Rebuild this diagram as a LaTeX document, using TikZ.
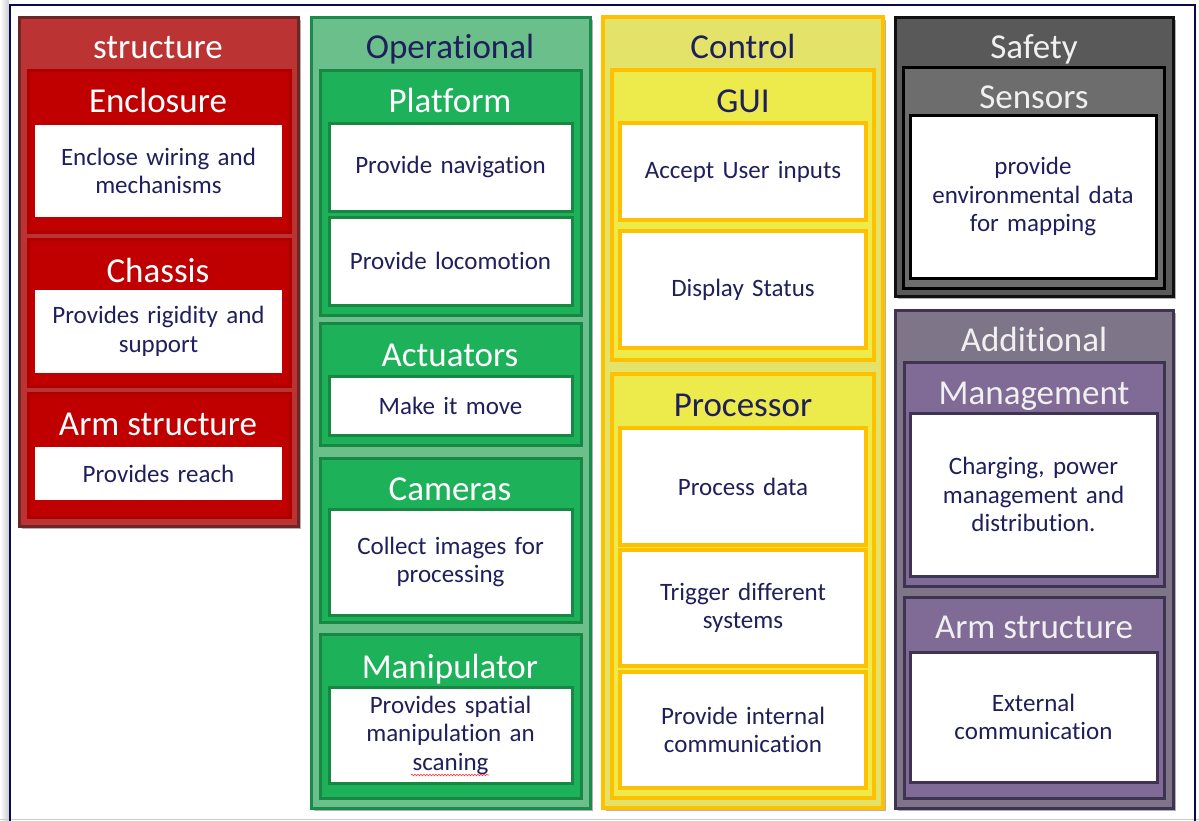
\documentclass[tikz,border=0pt]{standalone}
\usepackage{fontspec}
\setmainfont{Carlito}[Ligatures=NoCommon]
\usetikzlibrary{shadows,decorations.pathmorphing}

\definecolor{navytext}{HTML}{1F1F5C}
\definecolor{framecol}{HTML}{0A0A50}
\definecolor{redOutF}{HTML}{BB3333}\definecolor{redOutD}{HTML}{6B2626}
\definecolor{redInF}{HTML}{C00000}\definecolor{redInD}{HTML}{AE0000}
\definecolor{grnOutF}{HTML}{6ABF8B}\definecolor{grnOutD}{HTML}{1B8A4C}
\definecolor{grnInF}{HTML}{1DB15A}\definecolor{grnInD}{HTML}{178743}
\definecolor{ylwOutF}{HTML}{E3E36A}\definecolor{ylwD}{HTML}{FFC000}
\definecolor{ylwInF}{HTML}{EDEB4B}
\definecolor{gryOutF}{HTML}{595959}\definecolor{gryD}{HTML}{111111}
\definecolor{gryInF}{HTML}{6D6D6D}
\definecolor{purOutF}{HTML}{7F7589}\definecolor{purD}{HTML}{3E3350}
\definecolor{purInF}{HTML}{806A96}

% rectangular node given by its top-left and bottom-right corners
\newcommand\panel[6]{%
  \pgfmathsetmacro\pw{#5-#3}\pgfmathsetmacro\ph{#6-#4}%
  \node[#2, anchor=north west, minimum width=\pw pt, minimum height=\ph pt] (#1) at (#3,#4) {};}
% text block centred in a white box
\newcommand\desc[2]{\node[body] (#1-t) at (#1.center) {#2};}

\tikzset{
  box/.style={rectangle, inner sep=0pt, outer sep=0pt},
  colshadow/.style={drop shadow={shadow xshift=3pt, shadow yshift=-3pt, fill=black, opacity=0.3}},
  frame/.style={box, draw=framecol, line width=2.5pt},
  redout/.style={box, colshadow, fill=redOutF, draw=redOutD, line width=3pt},
  redin/.style={box, fill=redInF, draw=redInD, line width=3pt},
  redwhite/.style={box, fill=white},
  grnout/.style={box, colshadow, fill=grnOutF, draw=grnOutD, line width=3pt},
  grnin/.style={box, fill=grnInF, draw=grnInD, line width=3pt},
  grnwhite/.style={box, fill=white, draw=grnInD, line width=3pt},
  ylwout/.style={box, colshadow, fill=ylwOutF, draw=ylwD, line width=4pt},
  ylwin/.style={box, fill=ylwInF, draw=ylwD, line width=4pt},
  ylwwhite/.style={box, fill=white, draw=ylwD, line width=4pt},
  gryout/.style={box, colshadow, fill=gryOutF, draw=gryD, line width=3pt},
  gryin/.style={box, fill=gryInF, draw=black, line width=3pt},
  grywhite/.style={box, fill=white, draw=black, line width=3pt},
  purout/.style={box, colshadow, fill=purOutF, draw=purD, line width=3pt},
  purin/.style={box, fill=purInF, draw=purD, line width=3pt},
  purwhite/.style={box, fill=white, draw=purD, line width=3pt},
  ttl/.style={inner sep=0pt, anchor=base, font=\fontsize{35}{40}\selectfont},
  body/.style={inner sep=0pt, text width=235pt, align=center, text=navytext,
    font=\fontsize{25}{28.5}\selectfont},
  squiggle/.style={red!80, line width=0.6pt, decorate,
    decoration={snake, amplitude=0.8pt, segment length=3pt}},
}

\begin{document}
\begin{tikzpicture}[x=1pt, y=-1pt]
\useasboundingbox (0,0) rectangle (1199,820);
\fill[white] (0,0) rectangle (1199,820);
\shade[left color=white, right color=gray!40] (0,0) rectangle (9,820);
\draw[gray!40, line width=1pt] (0,819.5) -- (1199,819.5);
\panel{frame}{frame}{10}{5}{1195}{823}

% ---- structure ----
\panel{structure}{redout}{19}{17}{298}{526}
\node[ttl, text=white] (structure-h) at (158,58) {structure};
\panel{enclosure}{redin}{28}{70}{290}{232}
\node[ttl, text=white] (enclosure-h) at (158,112) {Enclosure};
\panel{enclosure-w}{redwhite}{35}{125}{282}{217}
\desc{enclosure-w}{Enclose wiring and\\mechanisms}
\panel{chassis}{redin}{28}{239}{290}{386}
\node[ttl, text=white] (chassis-h) at (158,282) {Chassis};
\panel{chassis-w}{redwhite}{35}{290}{282}{373}
\desc{chassis-w}{Provides rigidity and\\support}
\panel{armA}{redin}{28}{393}{290}{517}
\node[ttl, text=white] (armA-h) at (158,435) {Arm structure};
\panel{armA-w}{redwhite}{35}{447}{282}{500}
\desc{armA-w}{Provides reach}

% ---- operational ----
\panel{operational}{grnout}{311}{17}{590}{808}
\node[ttl, text=navytext] (operational-h) at (450,58) {Operational};
\panel{platform}{grnin}{320}{70}{581}{315}
\node[ttl, text=white] (platform-h) at (450,112) {Platform};
\panel{nav-w}{grnwhite}{329}{123}{572}{211}
\desc{nav-w}{Provide navigation}
\panel{loco-w}{grnwhite}{329}{217}{572}{305}
\desc{loco-w}{Provide locomotion}
\panel{actuators}{grnin}{320}{323}{581}{445}
\node[ttl, text=white] (actuators-h) at (450,366) {Actuators};
\panel{move-w}{grnwhite}{329}{376}{572}{435}
\desc{move-w}{Make it move}
\panel{cameras}{grnin}{320}{458}{581}{622}
\node[ttl, text=white] (cameras-h) at (450,500) {Cameras};
\panel{img-w}{grnwhite}{329}{509}{572}{615}
\desc{img-w}{Collect images for\\processing}
\panel{manip}{grnin}{320}{634}{581}{798}
\node[ttl, text=white] (manip-h) at (450,678) {Manipulator};
\panel{manip-w}{grnwhite}{329}{687}{572}{783}
\desc{manip-w}{Provides spatial\\manipulation an\\scaning}
\coordinate (sq-a) at (411,775);
\coordinate (sq-b) at (489,775);
\draw[squiggle] (sq-a) -- (sq-b);

% ---- control ----
\panel{control}{ylwout}{603}{17}{883}{808}
\node[ttl, text=navytext] (control-h) at (743,58) {Control};
\panel{gui}{ylwin}{612}{70}{874}{360}
\node[ttl, text=navytext] (gui-h) at (743,112) {GUI};
\panel{input-w}{ylwwhite}{620}{123}{866}{220}
\desc{input-w}{Accept User inputs}
\panel{status-w}{ylwwhite}{620}{231}{866}{348}
\desc{status-w}{Display Status}
\panel{processor}{ylwin}{612}{374}{874}{798}
\node[ttl, text=navytext] (processor-h) at (743,416) {Processor};
\panel{data-w}{ylwwhite}{620}{428}{866}{545}
\desc{data-w}{Process data}
\panel{trig-w}{ylwwhite}{620}{550}{866}{666}
\desc{trig-w}{Trigger different\\systems}
\panel{comm-w}{ylwwhite}{620}{672}{866}{788}
\desc{comm-w}{Provide internal\\communication}

% ---- safety ----
\panel{safety}{gryout}{895}{17}{1173}{296}
\node[ttl, text=white!94!black] (safety-h) at (1034,58) {Safety};
\panel{sensors}{gryin}{903}{67}{1164}{288}
\node[ttl, text=white!94!black] (sensors-h) at (1034,108) {Sensors};
\panel{sensors-w}{grywhite}{910}{115}{1156}{278}
\desc{sensors-w}{provide\\environmental data\\for mapping}

% ---- additional ----
\panel{additional}{purout}{895}{310}{1173}{808}
\node[ttl, text=white!94!black] (additional-h) at (1034,351) {Additional};
\panel{mgmt}{purin}{904}{362}{1164}{586}
\node[ttl, text=white!94!black] (mgmt-h) at (1034,404) {Management};
\panel{mgmt-w}{purwhite}{910}{413}{1157}{576}
\desc{mgmt-w}{Charging, power\\management and\\distribution.}
\panel{armB}{purin}{904}{597}{1164}{798}
\node[ttl, text=white!94!black] (armB-h) at (1034,638) {Arm structure};
\panel{armB-w}{purwhite}{910}{652}{1157}{782}
\desc{armB-w}{External\\communication}
\end{tikzpicture}
\end{document}
